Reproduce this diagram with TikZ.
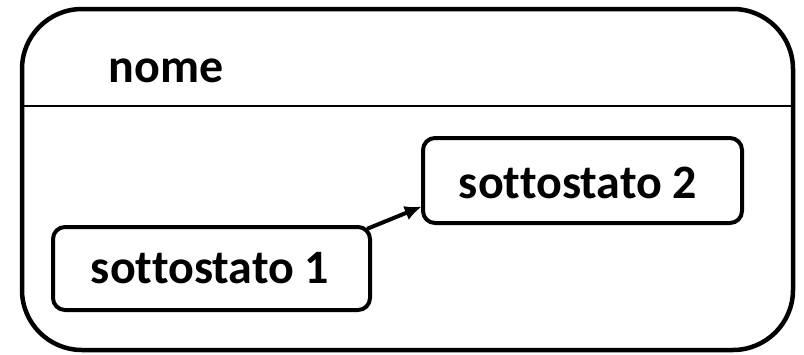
\documentclass[tikz,border=0pt]{standalone}
\usepackage{fontspec}
\setmainfont[Ligatures=NoCommon]{Carlito}
\usetikzlibrary{calc,arrows.meta}
\begin{document}
\begin{tikzpicture}[x=1pt,y=-1pt,
  statebox/.style={draw=black,line width=4pt,rounded corners=12pt},
  lbl/.style={font=\bfseries\fontsize{48}{56}\selectfont,anchor=base,inner sep=0pt}]
\useasboundingbox (0,0) rectangle (804,354);
\draw[line width=4.5pt,rounded corners=60pt] (22,9) rectangle (793,350);
\coordinate (dl) at (22,106);
\coordinate (dr) at (793,106);
\draw[line width=1.8pt] (dl) -- (dr);
\node[lbl] (nome) at (166,82) {nome};
\draw[statebox] (423,138) rectangle (742,223);
\node (b2) at (582.5,180.5) [minimum width=319pt,minimum height=85pt,inner sep=0pt] {};
\node[lbl] (t2) at (578,198) {sottostato 2};
\draw[statebox] (53,227) rectangle (370,310);
\node (b1) at (211.5,268.5) [minimum width=317pt,minimum height=83pt,inner sep=0pt] {};
\node[lbl] (t1) at (210,283) {sottostato 1};
\coordinate (s) at ($(b1.north east)+(-3,2)$);
\coordinate (e) at ($(b2.west)+(-1,26)$);
\draw[line width=4pt,-{Latex[length=17pt,width=15pt]}] (s) -- (e);
\end{tikzpicture}
\end{document}
